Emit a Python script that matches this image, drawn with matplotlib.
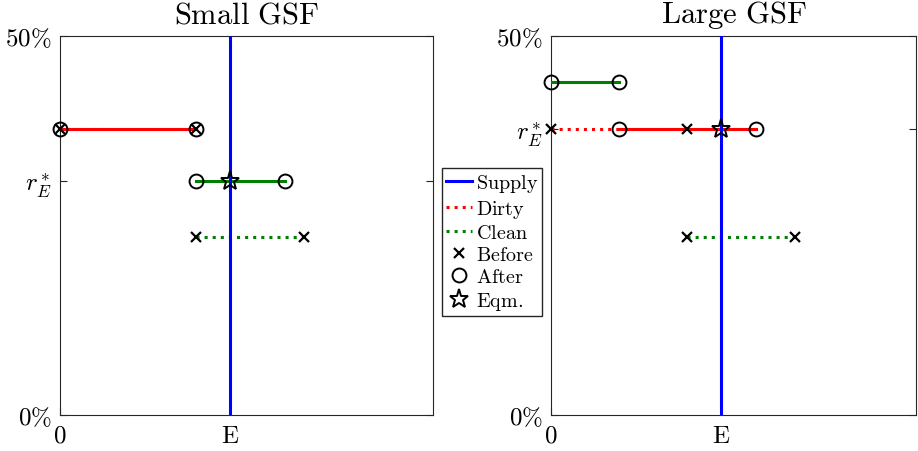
import matplotlib.pyplot as plt
from matplotlib.lines import Line2D

plt.rcParams['mathtext.fontset'] = 'cm'
plt.rcParams['font.family'] = 'serif'
plt.rcParams['font.serif'] = ['cmr10', 'DejaVu Serif']
plt.rcParams['axes.formatter.use_mathtext'] = True

E = 1.0
titles = ['Small GSF', 'Large GSF']
xmax = [2.19, 2.15]
r_star = [0.309, 0.377]

# dirty bank segments: before (dotted) and after (solid)
dirty_before_x = [[0.0, 0.8], [0.0, 0.8]]
dirty_before_y = [0.377, 0.377]
dirty_after_x = [[0.0, 0.8], [0.4, 1.205]]
dirty_after_y = [0.377, 0.377]

# clean bank segments
clean_before_x = [[0.8, 1.435], [0.8, 1.44]]
clean_before_y = [0.235, 0.235]
clean_after_x = [[0.8, 1.32], [0.0, 0.4]]
clean_after_y = [0.309, 0.439]

fig = plt.figure(figsize=(9.18, 4.52), dpi=100)
W, H = 918, 452
boxes = [(60, 37, 433, 416), (551, 37, 916, 416)]

for i in range(2):
    x0, y0, x1, y1 = boxes[i]
    ax = fig.add_axes([x0 / W, 1 - y1 / H, (x1 - x0) / W, (y1 - y0) / H])

    ax.plot(dirty_before_x[i], [dirty_before_y[i]] * 2, ':', color='red', lw=2.2, zorder=2)
    ax.plot(clean_before_x[i], [clean_before_y[i]] * 2, ':', color='green', lw=2.2, zorder=2)
    ax.plot(dirty_after_x[i], [dirty_after_y[i]] * 2, '-', color='red', lw=2.2, zorder=3)
    ax.plot(clean_after_x[i], [clean_after_y[i]] * 2, '-', color='green', lw=2.2, zorder=3)
    ax.axvline(E, color='blue', lw=2.2, zorder=4)

    ax.plot(dirty_before_x[i], [dirty_before_y[i]] * 2, 'x', color='k', ms=7, mew=1.6,
            ls='none', zorder=5, clip_on=False)
    ax.plot(clean_before_x[i], [clean_before_y[i]] * 2, 'x', color='k', ms=7, mew=1.6,
            ls='none', zorder=5, clip_on=False)
    ax.plot(dirty_after_x[i], [dirty_after_y[i]] * 2, 'o', mfc='none', mec='k', ms=10,
            mew=1.4, ls='none', zorder=5, clip_on=False)
    ax.plot(clean_after_x[i], [clean_after_y[i]] * 2, 'o', mfc='none', mec='k', ms=10,
            mew=1.4, ls='none', zorder=5, clip_on=False)
    ax.plot([E], [r_star[i]], '*', mfc='none', mec='k', ms=14, mew=1.4, zorder=6)

    ax.set_xlim(0, xmax[i])
    ax.set_ylim(0, 0.5)
    ax.set_xticks([0, E])
    ax.set_xticklabels([r'$0$', r'$\mathrm{E}$'], fontsize=18)
    ax.set_yticks([0, r_star[i], 0.5])
    ax.set_yticklabels([r'$0\%$', r'$r_E^*$', r'$50\%$'], fontsize=18)
    ax.tick_params(direction='in', length=5, width=0.8, color='#262626',
                   top=False, right=True)
    ax.tick_params(axis='x', pad=7)
    ax.tick_params(axis='y', pad=6)
    for s in ax.spines.values():
        s.set_color('#262626')
        s.set_linewidth(0.8)
    ax.set_title(r'$\mathrm{' + titles[i].replace(' ', r'\ ') + '}$', fontsize=22, pad=10)

handles = [
    Line2D([], [], color='blue', lw=2.2, ls='-'),
    Line2D([], [], color='red', lw=2.2, ls=':'),
    Line2D([], [], color='green', lw=2.2, ls=':'),
    Line2D([], [], color='k', marker='x', ls='none', ms=7, mew=1.6),
    Line2D([], [], mfc='none', mec='k', marker='o', ls='none', ms=10, mew=1.4),
    Line2D([], [], mfc='none', mec='k', marker='*', ls='none', ms=14, mew=1.4),
]
labels = [r'$\mathrm{Supply}$', r'$\mathrm{Dirty}$', r'$\mathrm{Clean}$',
          r'$\mathrm{Before}$', r'$\mathrm{After}$', r'$\mathrm{Eqm.}$']
fig.legend(handles, labels, loc='center', bbox_to_anchor=(492 / W, 1 - 243 / H),
           fontsize=14.5, handlelength=1.3, handletextpad=0.2, labelspacing=0.2,
           borderpad=0.2, borderaxespad=0, fancybox=False, edgecolor='#262626',
           framealpha=1)

fig.savefig('out.png', dpi=100)
